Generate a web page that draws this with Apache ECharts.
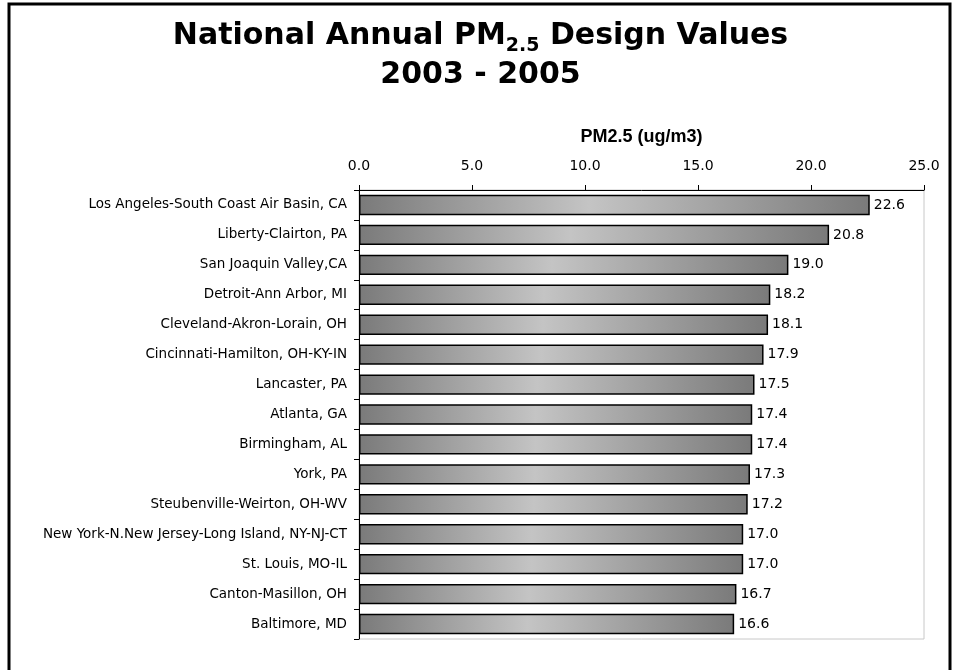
<!DOCTYPE html>
<html><head><meta charset="utf-8">
<script src="https://cdn.jsdelivr.net/npm/echarts@6/dist/echarts.min.js"></script>
<style>html,body{margin:0;padding:0;background:#fff}#c{width:961px;height:670px}</style>
</head><body><div id="c"></div>
<script>
const categories = ["Los Angeles-South Coast Air Basin, CA","Liberty-Clairton, PA","San Joaquin Valley,CA","Detroit-Ann Arbor, MI","Cleveland-Akron-Lorain, OH","Cincinnati-Hamilton, OH-KY-IN","Lancaster, PA","Atlanta, GA","Birmingham, AL","York, PA","Steubenville-Weirton, OH-WV","New York-N.New Jersey-Long Island, NY-NJ-CT","St. Louis, MO-IL","Canton-Masillon, OH","Baltimore, MD"];
const values = [22.6,20.8,19.0,18.2,18.1,17.9,17.5,17.4,17.4,17.3,17.2,17.0,17.0,16.7,16.6];
const axisName = "PM2.5 (ug/m3)";
const xMin = 0, xMax = 25, xStep = 5;

const chart = echarts.init(document.getElementById('c'));
const font = "'DejaVu Sans', 'Noto Sans', sans-serif";
const tfont = "'DejaVu Sans', sans-serif";
chart.setOption({
  animation: false,
  backgroundColor: '#fff',
  title: {
    text: '{m|National Annual PM}{sub|2.5}{m| Design Values}\n{m|2003 - 2005}',
    left: 'center', top: 12, padding: [5, 15, 5, 5],
    textStyle: {
      fontFamily: tfont, fontWeight: 'bold', fontSize: 30, color: '#000', lineHeight: 39,
      rich: {
        m: {fontFamily: tfont, fontWeight:'bold', fontSize: 30, color:'#000', lineHeight: 39},
        sub: {fontFamily: tfont, fontWeight:'bold', fontSize: 19, color:'#000', verticalAlign:'bottom', lineHeight: 20}
      }
    }
  },
  graphic: [{
    type: 'rect', shape: {x: 9, y: 4, width: 941, height: 670},
    style: {fill: 'none', stroke: '#000', lineWidth: 3}, z: 100
  }],
  grid: {left: 359, top: 190, width: 565, height: 449, containLabel: false,
    show: true, borderColor: '#c8c8c8', borderWidth: 1},
  xAxis: {
    type: 'value', position: 'top', min: xMin, max: xMax, interval: xStep,
    name: axisName, nameLocation: 'middle', nameGap: 44,
    nameTextStyle: {fontFamily: "'Liberation Sans', Arial, sans-serif", fontWeight: 'bold', fontSize: 18, color: '#000'},
    axisLine: {show: true, lineStyle: {color: '#000', width: 1}},
    axisTick: {show: true, inside: false, length: 5, lineStyle: {color: '#000'}},
    axisLabel: {formatter: v => v.toFixed(1), fontFamily: font, fontSize: 14, color: '#000', margin: 17},
    splitLine: {show: false}
  },
  yAxis: {
    type: 'category', data: categories, inverse: true,
    axisLine: {show: true, lineStyle: {color: '#000', width: 1}},
    axisTick: {show: true, length: 5, lineStyle: {color: '#000'}},
    axisLabel: {fontFamily: font, fontSize: 13.5, color: '#000', margin: 12}
  },
  series: [{
    type: 'bar', data: values, barCategoryGap: '32%',
    itemStyle: {
      borderColor: '#000', borderWidth: 1.5,
      color: {type: 'linear', x: 0, y: 0, x2: 1, y2: 0, colorStops: [
        {offset: 0, color: '#7a7a7a'}, {offset: 0.45, color: '#c4c4c4'}, {offset: 1, color: '#7a7a7a'}
      ]}
    },
    label: {show: true, position: 'right', distance: 4, formatter: p => p.value.toFixed(1),
      fontFamily: font, fontSize: 14, color: '#000'}
  }]
});
</script></body></html>
